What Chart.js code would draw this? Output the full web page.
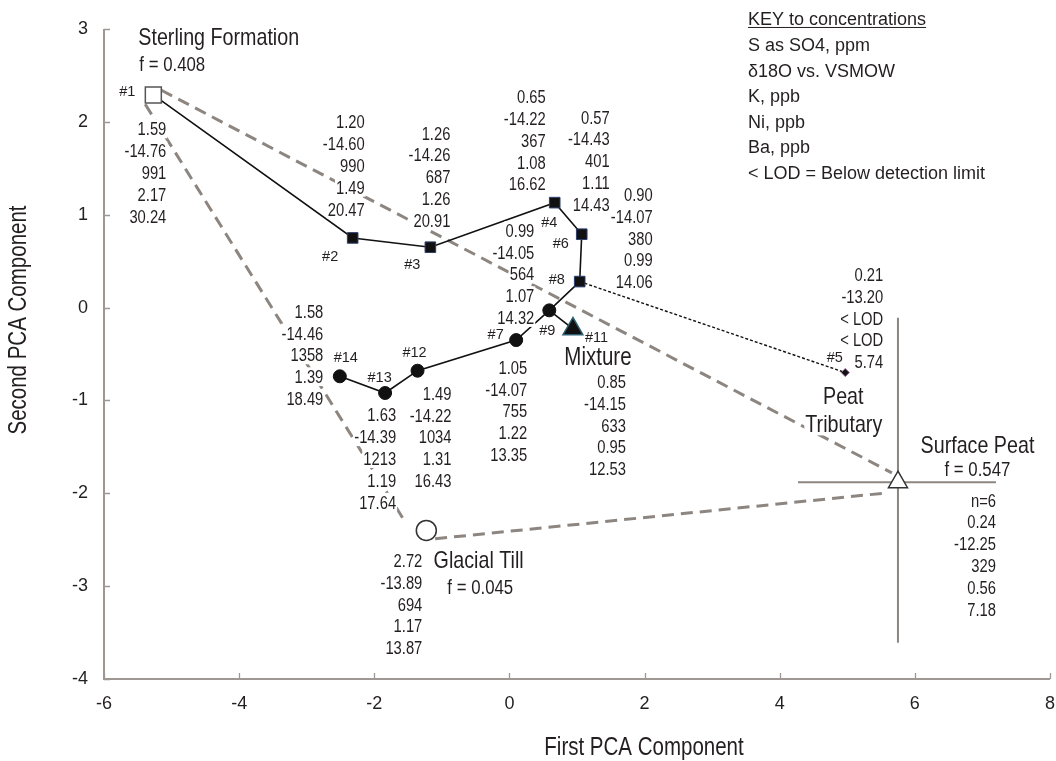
<!DOCTYPE html>
<html>
<head>
<meta charset="utf-8">
<title>PCA mixing</title>
<script src="https://cdn.jsdelivr.net/npm/chart.js@4.4.0/dist/chart.umd.min.js"></script>
<style>
  body { margin: 0; background: #fff; }
  .chartBox { position: relative; width: 1056px; height: 761px; }
</style>
</head>
<body>
<div class="chartBox"><canvas id="pca"></canvas></div>
<script>
// samples on the PCA plot
const samples = ['#1', '#2', '#3', '#4', '#5', '#6', '#7', '#8', '#9', '#11', '#12', '#13', '#14'];
const pc1 = [-5.27, -2.32, -1.17, 0.67, 4.97, 1.07, 0.10, 1.04, 0.59, 0.94, -1.36, -1.84, -2.51];
const pc2 = [2.29, 0.75, 0.65, 1.13, -0.70, 0.79, -0.35, 0.28, -0.03, -0.23, -0.68, -0.92, -0.74];

// concentrations printed next to each sample
const so4 = ['1.59', '1.20', '1.26', '0.65', '0.21', '0.57', '1.05', '0.90', '0.99', '0.85', '1.49', '1.63', '1.58'];
const d18o = ['-14.76', '-14.60', '-14.26', '-14.22', '-13.20', '-14.43', '-14.07', '-14.07', '-14.05', '-14.15', '-14.22', '-14.39', '-14.46'];
const kPpb = ['991', '990', '687', '367', '< LOD', '401', '755', '380', '564', '633', '1034', '1213', '1358'];
const niPpb = ['2.17', '1.49', '1.26', '1.08', '< LOD', '1.11', '1.22', '0.99', '1.07', '0.95', '1.31', '1.19', '1.39'];
const baPpb = ['30.24', '20.47', '20.91', '16.62', '5.74', '14.43', '13.35', '14.06', '14.32', '12.53', '16.43', '17.64', '18.49'];

// end members
const endMembers = ['Sterling Formation', 'Glacial Till', 'Surface Peat'];
const endFraction = ['0.408', '0.045', '0.547'];
const tillPc = [-1.23, -2.40];
const tillChem = ['2.72', '-13.89', '694', '1.17', '13.87'];
const peatPc = [5.75, -1.88];
const peatRangeX = [4.27, 7.20];
const peatRangeY = [-0.11, -3.61];
const peatN = 6;
const peatChem = ['0.24', '-12.25', '329', '0.56', '7.18'];

// connections
const flowPath = ['#1', '#2', '#3', '#4', '#6', '#8', '#9', '#7', '#12', '#13', '#14'];
const mixturePath = ['#9', '#11'];
const tributaryPath = ['#8', '#5'];

// dashed mixing triangle
const mixStartX = [-5.15, -5.39, -1.10];
const mixStartY = [2.34, 2.19, -2.49];
const mixEndX = [5.66, -1.55, 5.53];
const mixEndY = [-1.78, -2.30, -2.00];

const xTicks = [-6, -4, -2, 0, 2, 4, 6, 8];
const yTicks = [-4, -3, -2, -1, 0, 1, 2, 3];

const keyTitle = 'KEY to concentrations';
const keyLines = ['S as SO4, ppm', 'δ18O vs. VSMOW', 'K, ppb', 'Ni, ppb', 'Ba, ppb', '< LOD = Below detection limit'];

// fonts: use narrow face when it exists, else squeeze the regular one
const probe = document.createElement('canvas').getContext('2d');
const widthWith = (fam) => { probe.font = '40px ' + fam; return probe.measureText('First PCA Component 0123456789').width; };
const narrowOk = widthWith('"Liberation Sans Narrow", monospace') !== widthWith('monospace');
const NARROW = narrowOk ? '"Liberation Sans Narrow", "Arial Narrow", sans-serif' : '"Liberation Sans", Arial, sans-serif';
const REGULAR = '"Liberation Sans", Arial, sans-serif';
const squeeze = narrowOk ? 1 : 0.82;
const ink = '#231f20';
const axisGray = '#9e9793';
const dashGray = '#8d8680';

const text = (ctx, str, x, y, size, align, opts = {}) => {
    ctx.save();
    ctx.font = `${size}px ${opts.regular ? REGULAR : NARROW}`;
    ctx.textBaseline = 'alphabetic';
    ctx.textAlign = 'left';
    const sq = opts.regular ? 1 : squeeze;
    const w = ctx.measureText(str).width * sq;
    const left = align === 'left' ? x : align === 'right' ? x - w : x - w / 2;
    const base = y + size * 0.36;
    if (opts.bg) {
        ctx.fillStyle = '#fff';
        ctx.fillRect(left - 1, y - size * 0.52, w + 2, size * 1.04);
    }
    ctx.fillStyle = opts.color || ink;
    ctx.translate(left, base);
    ctx.scale(sq, 1);
    ctx.fillText(str, 0, 0);
    ctx.restore();
    if (opts.underline) {
        ctx.save();
        ctx.strokeStyle = ink;
        ctx.lineWidth = 1;
        ctx.beginPath();
        ctx.moveTo(left, base + 2.5);
        ctx.lineTo(left + w, base + 2.5);
        ctx.stroke();
        ctx.restore();
    }
    return w;
};

const P = id => ({ x: pc1[samples.indexOf(id)], y: pc2[samples.indexOf(id)] });

const line = (data, color, width, dash, order) => ({
    data, showLine: true, borderColor: color, borderWidth: width, borderDash: dash,
    pointRadius: 0, pointHoverRadius: 0, fill: false, order
});
const dots = (data, style, radius, bg, border, bw) => ({
    data, showLine: false, pointStyle: style, pointRadius: radius, pointHoverRadius: radius,
    pointBackgroundColor: bg, pointBorderColor: border, pointBorderWidth: bw, order: 0
});

const datasets = [];
mixStartX.forEach((sx, i) => {
    datasets.push(line([{ x: sx, y: mixStartY[i] }, { x: mixEndX[i], y: mixEndY[i] }], dashGray, 3, [12, 7], 3));
});
datasets.push(line([{ x: peatRangeX[0], y: peatPc[1] }, { x: peatRangeX[1], y: peatPc[1] }], dashGray, 2, [], 2));
datasets.push(line([{ x: peatPc[0], y: peatRangeY[0] }, { x: peatPc[0], y: peatRangeY[1] }], dashGray, 2, [], 2));
datasets.push(line(flowPath.map(P), '#111', 1.6, [], 1));
datasets.push(line(mixturePath.map(P), '#111', 1.6, [], 1));
datasets.push(line(tributaryPath.map(P), '#111', 1.4, [3, 2], 1));

datasets.push(dots(['#2', '#3', '#4', '#6', '#8'].map(P), 'rect', 7.5, '#111', '#2e3f6e', 1));
datasets.push(dots(['#9', '#7', '#12', '#13', '#14'].map(P), 'circle', 6.5, '#111', '#111', 1));
datasets.push(dots([P('#1')], 'rect', 11.3, '#fff', '#555', 1.5));
datasets.push(dots([P('#11')], 'triangle', 11.5, '#111', '#2f6275', 1.5));
datasets.push(dots([P('#5')], 'rectRot', 4, '#111', '#8a5a8a', 1));
datasets.push(dots([{ x: tillPc[0], y: tillPc[1] }], 'circle', 10, '#fff', '#333', 1.5));
datasets.push(dots([{ x: peatPc[0], y: peatPc[1] }], 'triangle', 11, '#fff', '#333', 1.5));

// where the text blocks sit, in pixels from their point
const columnAt = {
    '#1': [13, 34], '#2': [12, -116], '#3': [20, -114], '#4': [-9, -106], '#6': [28, -117],
    '#8': [73, -87], '#9': [-15, -80], '#14': [-16.5, -65], '#13': [11, 22], '#12': [34, 22.6],
    '#7': [11, 27.3], '#11': [53, 52.5], '#5': [38, -98]
};
const tagAt = {
    '#1': [-26, -4], '#2': [-22.5, 18], '#3': [-18, 17], '#4': [-5.5, 19], '#6': [-21, 9],
    '#8': [-23, -3], '#9': [-2, 19], '#7': [-20.5, -6], '#12': [-3, -19], '#13': [-5.5, -16],
    '#14': [6, -20], '#11': [23.5, 8], '#5': [-10.5, -16]
};
const rowGap = 21.8;

const decorations = {
    id: 'decorations',
    beforeDatasetsDraw(chart) {
        const { ctx, chartArea: a, scales: { x, y } } = chart;
        ctx.save();
        ctx.strokeStyle = axisGray;
        ctx.lineWidth = 2;
        ctx.beginPath();
        ctx.moveTo(a.left, a.top);
        ctx.lineTo(a.left, a.bottom);
        ctx.lineTo(a.right, a.bottom);
        ctx.stroke();
        ctx.lineWidth = 1.3;
        ctx.beginPath();
        xTicks.forEach(v => {
            const px = Math.round(x.getPixelForValue(v)) + 0.5;
            ctx.moveTo(px, a.bottom);
            ctx.lineTo(px, a.bottom - 6);
        });
        yTicks.forEach(v => {
            const py = Math.round(y.getPixelForValue(v)) + 0.5;
            ctx.moveTo(a.left, py);
            ctx.lineTo(a.left + 6, py);
        });
        ctx.stroke();
        ctx.restore();
    },
    afterDatasetsDraw(chart) {
        const { ctx, scales: { x, y } } = chart;
        const pix = (px, py) => [x.getPixelForValue(px), y.getPixelForValue(py)];
        const at = id => pix(pc1[samples.indexOf(id)], pc2[samples.indexOf(id)]);

        samples.forEach((id, i) => {
            const [sx, sy] = at(id);
            const [cx, cy] = columnAt[id];
            [so4[i], d18o[i], kPpb[i], niPpb[i], baPpb[i]].forEach((s, j) => {
                text(ctx, s, sx + cx, sy + cy + j * rowGap, 18, 'right', { bg: true });
            });
            const [tx, ty] = tagAt[id];
            text(ctx, id, sx + tx, sy + ty, 14.5, 'center', { regular: true, bg: true });
        });

        // Sterling Formation (#1)
        const [s1x, s1y] = at('#1');
        text(ctx, endMembers[0], s1x - 15, s1y - 59, 24, 'left', { bg: true });
        text(ctx, 'f = ' + endFraction[0], s1x - 14, s1y - 31, 20.5, 'left', { bg: true });

        // Mixture (#11)
        const [mx, my] = at('#11');
        text(ctx, 'Mixture', mx + 25, my + 27.5, 25, 'center', { bg: true });

        // Peat tributary (#5)
        const [tx5, ty5] = at('#5');
        text(ctx, 'Peat', tx5 - 2, ty5 + 22.3, 24, 'center', { bg: true });
        text(ctx, 'Tributary', tx5 - 1.5, ty5 + 50.3, 24, 'center', { bg: true });

        // Glacial till
        const [gx, gy] = pix(tillPc[0], tillPc[1]);
        tillChem.forEach((s, j) => text(ctx, s, gx - 4, gy + 30 + j * rowGap, 18, 'right', { bg: true }));
        text(ctx, endMembers[1], gx + 7.3, gy + 29, 24, 'left', { bg: true });
        text(ctx, 'f = ' + endFraction[1], gx + 21, gy + 55.7, 20.5, 'left', { bg: true });

        // Surface peat
        const [px, py] = pix(peatPc[0], peatPc[1]);
        ['n=' + peatN, ...peatChem].forEach((s, j) => text(ctx, s, px + 98, py + 18 + j * rowGap, 18, 'right', { bg: true }));
        text(ctx, endMembers[2], px + 79.5, py - 38, 24, 'center', { bg: true });
        text(ctx, 'f = ' + endFraction[2], px + 79.5, py - 14, 20.5, 'center', { bg: true });

        // key
        text(ctx, keyTitle, 748, 18.5, 18, 'left', { regular: true, underline: true });
        keyLines.forEach((s, j) => text(ctx, s, 748, 45 + j * 25.5, 18, 'left', { regular: true }));

        // axis titles
        text(ctx, 'First PCA Component', 644, 746, 25, 'center');
        ctx.save();
        ctx.translate(17, 320);
        ctx.rotate(-Math.PI / 2);
        text(ctx, 'Second PCA Component', 0, 0, 25, 'center');
        ctx.restore();
    }
};

new Chart(document.getElementById('pca'), {
    type: 'scatter',
    data: { datasets },
    options: {
        responsive: true,
        maintainAspectRatio: false,
        devicePixelRatio: 1,
        animation: false,
        layout: { autoPadding: false, padding: { left: 0, right: 6, top: 29, bottom: 0 } },
        plugins: { legend: { display: false }, tooltip: { enabled: false } },
        scales: {
            x: {
                type: 'linear', min: -6, max: 8,
                afterBuildTicks: s => { s.ticks = xTicks.map(v => ({ value: v })); },
                afterFit: s => { s.height = 82; s.paddingLeft = 0; s.paddingRight = 0; },
                ticks: { font: { family: NARROW, size: 18 }, color: ink, padding: 14, maxRotation: 0 },
                grid: { display: false, drawTicks: false },
                border: { display: false }
            },
            y: {
                type: 'linear', min: -4, max: 3,
                afterBuildTicks: s => { s.ticks = yTicks.map(v => ({ value: v })); },
                afterFit: s => { s.width = 104; s.paddingTop = 0; s.paddingBottom = 0; },
                ticks: { font: { family: NARROW, size: 18 }, color: ink, padding: 16 },
                grid: { display: false, drawTicks: false },
                border: { display: false }
            }
        }
    },
    plugins: [decorations]
});
</script>
</body>
</html>
